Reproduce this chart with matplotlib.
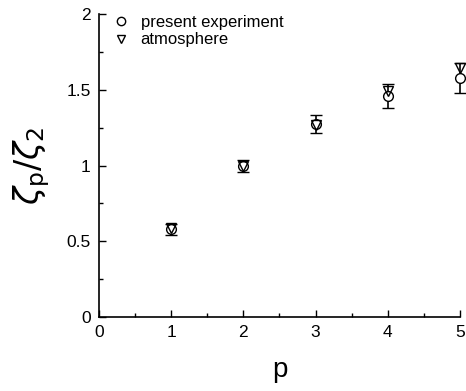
import matplotlib
matplotlib.use("Agg")
import matplotlib.pyplot as plt
from matplotlib.ticker import MultipleLocator
from matplotlib.lines import Line2D

plt.rcParams['font.family'] = ['Liberation Sans', 'DejaVu Sans']
plt.rcParams['mathtext.fontset'] = 'dejavusans'

p = [1, 2, 3, 4, 5]
present = [0.58, 1.0, 1.275, 1.46, 1.58]
present_err = [0.035, 0.04, 0.057, 0.08, 0.1]
atmosphere = [0.585, 1.0, 1.27, 1.49, 1.645]

fig = plt.figure(figsize=(4.66, 3.91), dpi=100)
ax = fig.add_axes([0.2125, 0.189, 0.7745, 0.775])

eb = ax.errorbar(p, present, yerr=present_err, fmt='o', mfc='white', mec='black',
                 ecolor='black', ms=7, mew=1.0, capsize=4, elinewidth=1.2, capthick=1.2,
                 zorder=3)
for art in eb.lines[0:1]:
    art.set_clip_on(False)
for art in eb.lines[1]:
    art.set_clip_on(False)
for art in eb.lines[2]:
    art.set_clip_on(False)
tri, = ax.plot(p, atmosphere, 'v', mfc='none', mec='black', ms=7.5, mew=1.0,
               zorder=4, clip_on=False)

ax.set_xlim(0, 5)
ax.set_ylim(0, 2)
ax.xaxis.set_major_locator(MultipleLocator(1))
ax.xaxis.set_minor_locator(MultipleLocator(0.5))
ax.yaxis.set_major_locator(MultipleLocator(0.5))
ax.yaxis.set_minor_locator(MultipleLocator(0.25))
ax.set_yticks([0, 0.5, 1, 1.5, 2])
ax.set_yticklabels(['0', '0.5', '1', '1.5', '2'])
ax.tick_params(which='both', direction='in', labelsize=12.5, width=1.0, pad=6)
ax.tick_params(which='major', length=5)
ax.tick_params(which='minor', length=3)
for s in ['top', 'right']:
    ax.spines[s].set_visible(False)
for s in ['left', 'bottom']:
    ax.spines[s].set_linewidth(1.2)

ax.set_xlabel('p', fontsize=20, labelpad=12)
ax.set_ylabel(r'$\zeta_{\mathrm{p}}/\zeta_2$', fontsize=24, labelpad=10)

h1 = Line2D([], [], ls='none', marker='o', mfc='none', mec='black', ms=6, mew=1.0)
h2 = Line2D([], [], ls='none', marker='v', mfc='none', mec='black', ms=6, mew=1.0)
leg = ax.legend([h1, h2], ['present experiment', 'atmosphere'], loc='upper left',
                frameon=False, fontsize=12, handletextpad=0.5,
                borderaxespad=0.2, labelspacing=0.15, handlelength=1.4,
                bbox_to_anchor=(0.0, 1.03))

fig.savefig('out.png', dpi=100)
